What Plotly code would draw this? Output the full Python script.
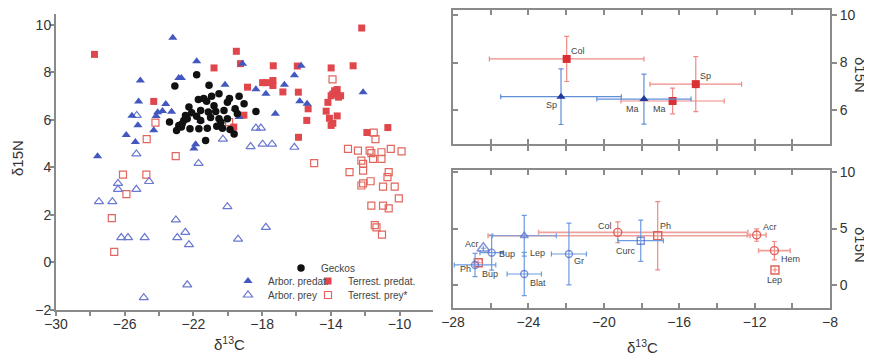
import plotly.graph_objects as go

# ---------------- data: left panel (individual samples) ----------------
gecko_x = [-23.08, -21.81, -21.09, -20.51, -20.94, -21.71, -21.23, -20.02, -19.34, -19.05,
           -21.58, -21.13, -20.70, -20.22, -19.57, -18.36, -22.46, -22.36, -22.56, -21.81,
           -21.58, -20.51, -20.02, -19.44, -23.39, -22.85, -22.65, -22.98, -22.20, -21.68,
           -21.19, -20.64, -20.31, -19.87, -19.63, -21.29, -22.26, -21.40, -20.80, -22.70,
           -21.00, -19.90, -22.10, -20.40]
gecko_y = [7.43, 7.90, 7.46, 7.10, 7.00, 6.86, 6.79, 6.75, 7.00, 6.68,
           6.40, 6.33, 6.36, 6.40, 6.47, 6.36, 6.19, 6.05, 5.98, 6.16,
           5.98, 6.05, 6.05, 6.26, 5.91, 5.77, 5.84, 5.56, 5.63, 5.63,
           5.65, 5.74, 5.65, 5.60, 5.41, 5.14, 6.54, 6.90, 6.60, 5.70,
           6.10, 6.90, 6.30, 5.90]

arb_pred_x = [-23.20, -27.58, -25.09, -25.19, -25.58, -25.23, -25.91, -25.38, -24.31, -24.08,
              -24.17, -23.80, -23.61, -23.27, -22.85, -22.70, -21.81, -21.97, -21.87, -21.58,
              -20.16, -19.14, -19.57, -19.34, -18.36, -17.78, -17.23, -16.70, -16.12, -15.73,
              -15.81, -15.38, -12.12]
arb_pred_y = [9.46, 4.47, 7.66, 6.78, 6.18, 5.78, 5.37, 5.07, 5.57, 6.32,
              6.17, 6.38, 6.67, 6.34, 7.77, 7.77, 8.47, 4.80, 4.98, 5.98,
              7.48, 8.37, 6.47, 6.12, 7.29, 7.10, 6.26, 7.48, 7.88, 8.28,
              6.79, 6.68, 7.17]

ter_pred_x = [-27.76, -24.31, -20.80, -19.50, -19.26, -18.85, -19.06, -19.65, -17.97, -17.72,
              -17.35, -17.37, -17.37, -16.79, -15.95, -15.89, -15.32, -15.40, -15.88, -13.98,
              -12.70, -12.20, -14.17, -13.98, -13.78, -13.63, -13.88, -13.43, -13.55, -14.27,
              -13.63, -14.08, -13.88, -13.98, -11.90, -10.68]
ter_pred_y = [8.76, 6.78, 8.19, 8.89, 8.37, 7.38, 6.20, 5.70, 7.57, 7.57,
              8.28, 7.66, 7.45, 7.18, 8.27, 7.17, 6.47, 5.98, 5.27, 8.19,
              8.28, 9.87, 6.74, 7.02, 7.23, 7.28, 7.09, 7.02, 6.96, 6.37,
              6.17, 6.07, 5.86, 5.77, 5.47, 5.68]

arb_prey_x = [-25.30, -25.32, -21.70, -20.28, -18.36, -18.07, -18.67, -17.97, -17.42, -16.12,
              -26.39, -26.39, -25.32, -24.58, -27.50, -26.72, -26.20, -25.81, -24.84, -23.02,
              -22.94, -22.47, -22.26, -20.02, -19.40, -17.78, -22.36, -24.89]
arb_prey_y = [6.19, 4.57, 4.17, 5.19, 5.66, 5.66, 4.88, 4.98, 4.98, 4.85,
              3.33, 3.08, 3.08, 3.41, 2.56, 2.56, 1.05, 1.05, 1.05, 1.79,
              1.05, 1.27, 0.75, 2.35, 0.98, 1.48, -0.94, -1.48]

ter_prey_x = [-24.21, -24.72, -23.03, -19.92, -14.97, -13.90, -11.50, -11.40,
              -13.00, -12.42, -11.74, -11.64, -11.05, -10.51, -9.88,
              -12.22, -12.12, -11.54, -11.05, -12.91, -12.12, -10.63, -10.70,
              -12.22, -12.12, -11.68, -10.96, -10.28, -10.04,
              -11.64, -10.96, -10.63, -11.44, -11.34, -11.02,
              -26.10, -24.74, -25.90, -26.75, -26.61]
ter_prey_y = [5.89, 5.19, 4.48, 5.91, 4.18, 7.71, 5.47, 5.19,
              4.78, 4.71, 4.71, 4.60, 4.64, 4.78, 4.68,
              4.29, 4.15, 4.36, 4.36, 3.80, 3.87, 3.80, 3.59,
              3.24, 3.33, 3.42, 3.19, 3.19, 2.70,
              2.39, 2.39, 2.28, 1.57, 1.48, 1.17,
              3.70, 3.70, 2.88, 1.87, 0.45]

# ---------------- data: top-right (predator means) ----------------
predR_names = ["Col", "Ma", "Sp"]
predR_x = [-21.97, -16.35, -15.12]
predR_y = [8.15, 6.38, 7.09]
predR_xerr = [4.10, 2.74, 2.43]
predR_yerr = [0.95, 0.54, 1.16]

predB_names = ["Sp", "Ma"]
predB_x = [-22.27, -17.87]
predB_y = [6.56, 6.46]
predB_xerr = [3.20, 2.50]
predB_yerr = [1.17, 1.05]

# ---------------- data: bottom-right (prey means) ----------------
preyB_names = ["Acr", "Bup", "Ph", "Lep", "Blat", "Gr", "Curc"]
preyB_x = [-26.39, -25.95, -26.83, -24.22, -24.22, -21.85, -18.04]
preyB_y = [3.25, 2.86, 1.77, 4.36, 0.97, 2.74, 3.92]
preyB_xerr = [0.0, 0.62, 1.10, 1.70, 0.91, 0.93, 1.20]
preyB_yerr = [0.0, 1.55, 1.03, 1.80, 1.92, 2.73, 1.83]
preyB_sym = ["triangle-up-open", "circle-open", "circle-open", "triangle-up-open",
             "circle-open", "circle-open", "square-open"]
preyB_size = [11, 7, 7, 7, 7, 7, 7]

preyR_names = ["Bup", "Col", "Ph", "Acr", "Hem", "Lep"]
preyR_x = [-26.66, -19.26, -17.14, -11.89, -10.95, -10.92]
preyR_y = [1.97, 4.66, 4.36, 4.42, 3.04, 1.33]
preyR_xerr_minus = [0.0, 4.20, 9.00, 0.50, 0.84, 0.0]
preyR_xerr_plus = [0.0, 6.90, 4.90, 0.50, 0.84, 0.0]
preyR_yerr = [0.0, 0.92, 3.02, 0.55, 0.81, 0.0]
preyR_sym = ["square-open", "circle-open", "square-open", "circle-open", "circle-open", "square-open"]

# label pixel offsets (styling)
predR_shift = [(11, 8), (-13, -8), (10, 8)]
predB_shift = [(-10, -8), (-11, -10)]
preyB_shift = [(-11, 4), (15, -1), (-10, -4), (13, -17), (14, -9), (10, -7), (-15, -10)]
preyR_shift = [(12, -11), (-13, 6), (8, 10), (13, 8), (16, -8), (0, -10)]

# ---------------- styling ----------------
W, H = 872, 358
OFF = 8  # page body margin of the browser
FONT = "Liberation Sans, Arial, sans-serif"
AX = "#8a8a8a"
TXT = "#333333"
RED = "#e0474c"
RED_O = "#e2665e"
BLUE = "#4357c0"
BLUE_O = "#6a78d0"

def fx(p):
    return (p - OFF) / W

def fy(p):
    return 1 - (p - OFF) / H

fig = go.Figure()

# left panel
fig.add_trace(go.Scatter(x=ter_prey_x, y=ter_prey_y, mode="markers", name="Terrest. prey*",
                         marker=dict(symbol="square-open", size=7, color=RED_O, line=dict(width=1.2)),
                         legend="legend5", xaxis="x", yaxis="y"))
fig.add_trace(go.Scatter(x=arb_prey_x, y=arb_prey_y, mode="markers", name="Arbor. prey",
                         marker=dict(symbol="triangle-up-open", size=8, color=BLUE_O, line=dict(width=1.2)),
                         legend="legend4", xaxis="x", yaxis="y"))
fig.add_trace(go.Scatter(x=ter_pred_x, y=ter_pred_y, mode="markers", name="Terrest. predat.",
                         marker=dict(symbol="square", size=7, color=RED),
                         legend="legend3", xaxis="x", yaxis="y"))
fig.add_trace(go.Scatter(x=arb_pred_x, y=arb_pred_y, mode="markers", name="Arbor. predat.",
                         marker=dict(symbol="triangle-up", size=8, color=BLUE),
                         legend="legend2", xaxis="x", yaxis="y"))
fig.add_trace(go.Scatter(x=gecko_x, y=gecko_y, mode="markers", name="Geckos",
                         marker=dict(symbol="circle", size=7.5, color="#111111"),
                         legend="legend", xaxis="x", yaxis="y"))

# top-right panel
fig.add_trace(go.Scatter(x=predR_x, y=predR_y, mode="markers", showlegend=False,
                         marker=dict(symbol="square", size=8, color="#d93035"),
                         error_x=dict(type="data", array=predR_xerr, color="#ee8a86", thickness=1.2, width=2.5),
                         error_y=dict(type="data", array=predR_yerr, color="#ee8a86", thickness=1.2, width=2.5),
                         xaxis="x2", yaxis="y2"))
fig.add_trace(go.Scatter(x=predB_x, y=predB_y, mode="markers", showlegend=False,
                         marker=dict(symbol="triangle-up", size=8, color="#23399a"),
                         error_x=dict(type="data", array=predB_xerr, color="#5f8fd8", thickness=1.2, width=2.5),
                         error_y=dict(type="data", array=predB_yerr, color="#5f8fd8", thickness=1.2, width=2.5),
                         xaxis="x2", yaxis="y2"))
fig.add_trace(go.Scatter(x=[], y=[], showlegend=False, xaxis="x2", yaxis="y4"))

# bottom-right panel
fig.add_trace(go.Scatter(x=preyR_x, y=preyR_y, mode="markers", showlegend=False,
                         marker=dict(symbol=preyR_sym, size=8, color="#e0605a", line=dict(width=1.4)),
                         error_x=dict(type="data", symmetric=False, array=preyR_xerr_plus,
                                      arrayminus=preyR_xerr_minus, color="#f0a09a", thickness=1.6, width=2.5),
                         error_y=dict(type="data", array=preyR_yerr, color="#ee8a86", thickness=1.2, width=2.5),
                         xaxis="x3", yaxis="y3"))
fig.add_trace(go.Scatter(x=preyB_x, y=preyB_y, mode="markers", showlegend=False,
                         marker=dict(symbol=preyB_sym, size=preyB_size, color="#4c64c8", line=dict(width=1.4)),
                         error_x=dict(type="data", array=preyB_xerr, color="#6d9be0", thickness=1.2, width=2.5),
                         error_y=dict(type="data", array=preyB_yerr, color="#6d9be0", thickness=1.2, width=2.5),
                         xaxis="x3", yaxis="y3"))
fig.add_trace(go.Scatter(x=[], y=[], showlegend=False, xaxis="x3", yaxis="y5"))

annotations = []
def label(names, xs, ys, shifts, xref, yref):
    for n, xv, yv, (dx, dy) in zip(names, xs, ys, shifts):
        annotations.append(dict(x=xv, y=yv, xref=xref, yref=yref, text=n, showarrow=False,
                                xanchor="center", yanchor="middle",
                                xshift=dx, yshift=dy, font=dict(size=9, color="#444", family=FONT)))

label(predR_names, predR_x, predR_y, predR_shift, "x2", "y2")
label(predB_names, predB_x, predB_y, predB_shift, "x2", "y2")
label(preyB_names, preyB_x, preyB_y, preyB_shift, "x3", "y3")
label(preyR_names, preyR_x, preyR_y, preyR_shift, "x3", "y3")

# axis titles
tfont = dict(size=15, color=TXT, family=FONT)
def title(text, xp, yp, angle=0):
    return dict(x=fx(xp), y=fy(yp), xref="paper", yref="paper", text=text, textangle=angle,
                xanchor="center", yanchor="middle", showarrow=False, font=tfont)

annotations += [
    title("δ15N", 18, 158, -90),
    title("δ<sup>13</sup>C", 229, 343),
    title("δ<sup>13</sup>C", 642, 346),
    title("δ15N", 861, 75, 90),
    title("δ15N", 861, 245, 90),
]

tickfont = dict(size=14, color=TXT, family=FONT)
common = dict(showgrid=False, zeroline=False, linecolor=AX, linewidth=2, tickcolor=AX,
              tickwidth=1.5, ticklen=5, tickfont=tickfont, automargin=False,
              ticklabeloverflow="allow")

legfont = dict(size=10, color="#444", family=FONT)

def leg(xp, yp):
    return dict(x=fx(xp), y=fy(yp), xanchor="left", yanchor="middle", orientation="v",
                bgcolor="rgba(0,0,0,0)", font=legfont, itemwidth=30, borderwidth=0)

left_common = dict(common)
left_common.update(ticklen=4, ticklabelstandoff=-4)

fig.update_layout(
    width=W, height=H, margin=dict(l=0, r=0, t=0, b=0, pad=0, autoexpand=False),
    paper_bgcolor="white", plot_bgcolor="white",
    font=dict(family=FONT, color=TXT),
    annotations=annotations,
    xaxis=dict(domain=[fx(56), fx(433)], range=[-30, -8.05], anchor="y", showline=True,
               ticks="outside", tick0=-30, dtick=4,
               minor=dict(ticks="outside", dtick=2, ticklen=4, tickcolor=AX, tickwidth=1.5),
               **left_common),
    yaxis=dict(domain=[fy(310), fy(14)], range=[-2, 10.46], anchor="x", showline=True,
               ticks="outside", tick0=0, dtick=2, **left_common),
    xaxis2=dict(domain=[fx(453), fx(830)], range=[-28, -8], anchor="y2", showline=True,
                mirror="allticks", ticks="inside", dtick=2, tick0=-28, showticklabels=False, **common),
    yaxis2=dict(domain=[fy(144), fy(10)], range=[4.57, 10.21], anchor="x2", side="right",
                showline=True, mirror=True, ticks="outside", dtick=2, tick0=0, **common),
    yaxis4=dict(range=[4.57, 10.21], overlaying="y2", anchor="x2", side="left", showline=False,
                ticks="inside", dtick=2, tick0=0, showticklabels=False, showgrid=False,
                zeroline=False, tickcolor=AX, tickwidth=1.5, ticklen=5),
    xaxis3=dict(domain=[fx(453), fx(830)], range=[-28, -8], anchor="y3", showline=True,
                mirror="allticks", ticks="inside", tick0=-28, dtick=4,
                minor=dict(ticks="inside", dtick=2, ticklen=5, tickcolor=AX, tickwidth=1.5),
                **common),
    yaxis3=dict(domain=[fy(308), fy(170)], range=[-2.04, 10.18], anchor="x3", side="right",
                showline=True, mirror=True, ticks="outside", dtick=5, tick0=0, **common),
    yaxis5=dict(range=[-2.04, 10.18], overlaying="y3", anchor="x3", side="left", showline=False,
                ticks="inside", dtick=5, tick0=0, showticklabels=False, showgrid=False,
                zeroline=False, tickcolor=AX, tickwidth=1.5, ticklen=5),
    legend=leg(281, 268),
    legend2=leg(228, 281),
    legend3=leg(308, 281),
    legend4=leg(228, 295),
    legend5=leg(308, 295),
)

fig.write_html("out.html")
